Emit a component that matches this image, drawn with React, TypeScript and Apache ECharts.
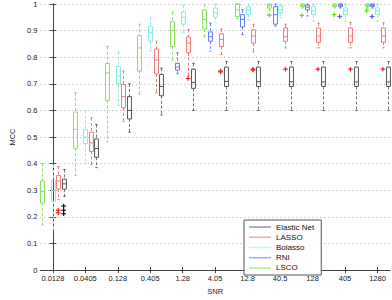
import React, { useEffect, useRef } from 'react';
import * as echarts from 'echarts';

const categories = ['0.0128', '0.0405', '0.128', '0.405', '1.28', '4.05', '12.8', '40.5', '128', '405', '1280'];
const categoryIndex = categories.map((_, i) => i);

// box values per category: [min, q1, median, q3, max]; null = no box
const lscoBoxes = [
  [0.17, 0.252, 0.295, 0.335, 0.4],
  [0.356, 0.457, 0.529, 0.594, 0.666],
  [0.482, 0.637, 0.741, 0.777, 0.84],
  [0.662, 0.748, 0.835, 0.881, 0.924],
  [0.79, 0.84, 0.9, 0.935, 0.97],
  [0.877, 0.906, 0.942, 0.978, 1.0],
  [0.946, 0.953, 0.978, 1.0, 1.0],
  [0.975, 0.985, 0.993, 1.0, 1.0],
  [0.985, 0.99, 0.995, 1.0, 1.0],
  [0.985, 0.99, 0.995, 1.0, 1.0],
  [0.985, 0.99, 0.995, 1.0, 1.0],
];
const lscoOutliers = [[7, 0.958], [8, 0.957], [9, 0.96], [10, 0.975]];

const rniBoxes = [
  null, null, null, null,
  [0.738, 0.752, 0.763, 0.777, 0.817],
  [0.823, 0.86, 0.877, 0.895, 0.928],
  [0.885, 0.914, 0.942, 0.96, 0.978],
  [0.917, 0.924, 0.96, 0.99, 1.0],
  [0.955, 0.978, 0.988, 0.996, 1.0],
  [0.985, 0.99, 0.995, 1.0, 1.0],
  [0.985, 0.99, 0.995, 1.0, 1.0],
];
const rniOutliers = [[9, 0.953], [10, 0.953]];

const bolassoBoxes = [
  [0.15, 0.259, 0.298, 0.338, 0.395],
  [0.4, 0.475, 0.5, 0.529, 0.6],
  [0.62, 0.7, 0.73, 0.765, 0.82],
  [0.823, 0.86, 0.892, 0.917, 0.95],
  [0.894, 0.924, 0.95, 0.97, 0.996],
  [0.93, 0.95, 0.967, 0.985, 1.0],
  [0.94, 0.96, 0.978, 0.99, 1.0],
  [0.95, 0.967, 0.978, 0.993, 1.0],
  [0.935, 0.96, 0.975, 0.99, 1.0],
  [0.935, 0.96, 0.975, 0.985, 1.0],
  [0.935, 0.96, 0.975, 0.985, 1.0],
];
const bolassoOutliers: number[][] = [];

const lassoBoxes = [
  [0.265, 0.305, 0.335, 0.356, 0.39],
  [0.396, 0.446, 0.478, 0.518, 0.572],
  [0.558, 0.61, 0.652, 0.698, 0.748],
  [0.666, 0.737, 0.79, 0.831, 0.86],
  [0.73, 0.817, 0.853, 0.876, 0.904],
  [0.81, 0.84, 0.867, 0.888, 0.906],
  [0.82, 0.853, 0.88, 0.903, 0.924],
  [0.835, 0.86, 0.877, 0.91, 0.924],
  [0.835, 0.856, 0.88, 0.91, 0.928],
  [0.835, 0.856, 0.88, 0.91, 0.93],
  [0.835, 0.856, 0.88, 0.91, 0.93],
];
const lassoOutliers = [
  [0, 0.225], [0, 0.215], [4, 0.72], [5, 0.745], [5, 0.748],
  [6, 0.755], [6, 0.752], [7, 0.755], [8, 0.755], [9, 0.755], [10, 0.755],
];

const elasticBoxes = [
  [0.277, 0.304, 0.324, 0.342, 0.378],
  [0.385, 0.424, 0.457, 0.493, 0.547],
  [0.518, 0.568, 0.6, 0.652, 0.7],
  [0.583, 0.655, 0.69, 0.735, 0.759],
  [0.6, 0.683, 0.705, 0.755, 0.777],
  [0.6, 0.69, 0.709, 0.763, 0.784],
  [0.6, 0.69, 0.708, 0.763, 0.784],
  [0.6, 0.69, 0.708, 0.763, 0.784],
  [0.6, 0.69, 0.707, 0.763, 0.784],
  [0.6, 0.69, 0.707, 0.763, 0.784],
  [0.6, 0.69, 0.707, 0.763, 0.784],
];
const elasticOutliers = [[0, 0.241], [0, 0.225], [0, 0.212]];

// left-to-right order within a group: LSCO, RNI, Bolasso, LASSO, Elastic Net
const methods = [
  { name: 'LSCO', boxes: lscoBoxes, outliers: lscoOutliers, color: '#84e25a', whisker: '#8fe466', outColor: '#5fd82a', legendColor: '#a8f184' },
  { name: 'RNI', boxes: rniBoxes, outliers: rniOutliers, color: '#6478ff', whisker: '#7485ff', outColor: '#4a5cff', legendColor: '#9aa8ff' },
  { name: 'Bolasso', boxes: bolassoBoxes, outliers: bolassoOutliers, color: '#86ebe0', whisker: '#8eede2', outColor: '#60e0d4', legendColor: '#bff6ee' },
  { name: 'LASSO', boxes: lassoBoxes, outliers: lassoOutliers, color: '#f27878', whisker: '#f27a7a', outColor: '#ff1a1a', legendColor: '#ffa3a3' },
  { name: 'Elastic Net', boxes: elasticBoxes, outliers: elasticOutliers, color: '#555555', whisker: '#777777', outColor: '#111111', legendColor: '#9a9a9a' },
];
const legendOrder = ['Elastic Net', 'LASSO', 'Bolasso', 'RNI', 'LSCO'];

const OFFSET = 0.166;
const BOXW = 0.12;

function boxRenderer(k: number, color: string, whisker: string) {
  return (params: any, api: any) => {
    const x = api.value(0);
    const band = api.size([1, 0])[0];
    const off = (k - 2) * band * OFFSET;
    const bw = band * BOXW;
    const pMin = api.coord([x, api.value(1)]);
    const pQ1 = api.coord([x, api.value(2)]);
    const pMed = api.coord([x, api.value(3)]);
    const pQ3 = api.coord([x, api.value(4)]);
    const pMax = api.coord([x, api.value(5)]);
    const cx = Math.round(pMin[0] + off) + 0.5;
    const dash = { stroke: whisker, lineWidth: 1, lineDash: [3, 2] };
    const solid = { stroke: color, lineWidth: 1 };
    const cap = bw * 0.3;
    return {
      type: 'group',
      children: [
        { type: 'line', shape: { x1: cx, y1: pMax[1], x2: cx, y2: pQ3[1] }, style: dash },
        { type: 'line', shape: { x1: cx, y1: pQ1[1], x2: cx, y2: pMin[1] }, style: dash },
        { type: 'line', shape: { x1: cx - cap, y1: pMax[1], x2: cx + cap, y2: pMax[1] }, style: solid },
        { type: 'line', shape: { x1: cx - cap, y1: pMin[1], x2: cx + cap, y2: pMin[1] }, style: solid },
        {
          type: 'rect',
          shape: { x: cx - bw / 2, y: pQ3[1], width: bw, height: pQ1[1] - pQ3[1] },
          style: { fill: 'none', stroke: color, lineWidth: 1 },
        },
        { type: 'line', shape: { x1: cx - bw / 2, y1: pMed[1], x2: cx + bw / 2, y2: pMed[1] }, style: solid },
      ],
    };
  };
}

function outlierRenderer(k: number, color: string) {
  return (params: any, api: any) => {
    const p = api.coord([api.value(0), api.value(1)]);
    const band = api.size([1, 0])[0];
    const cx = p[0] + (k - 2) * band * OFFSET;
    const r = 2.3;
    const st = { stroke: color, lineWidth: 1.2 };
    return {
      type: 'group',
      children: [
        { type: 'line', shape: { x1: cx - r, y1: p[1], x2: cx + r, y2: p[1] }, style: st },
        { type: 'line', shape: { x1: cx, y1: p[1] - r, x2: cx, y2: p[1] + r }, style: st },
      ],
    };
  };
}

export default function App() {
  const ref = useRef<HTMLDivElement>(null);
  useEffect(() => {
    document.body.style.margin = '0';
    const chart = echarts.init(ref.current!, null, { renderer: 'svg' });
    const series: any[] = [];
    methods.forEach((m, k) => {
      const data: any[] = [];
      m.boxes.forEach((b, i) => {
        if (b) data.push([i, ...b]);
      });
      series.push({
        type: 'custom',
        name: m.name,
        itemStyle: { color: m.color },
        encode: { x: 0, y: [1, 2, 3, 4, 5] },
        renderItem: boxRenderer(k, m.color, m.whisker),
        data,
        z: 2,
      });
      if (m.outliers.length) {
        series.push({
          type: 'custom',
          name: m.name,
          itemStyle: { color: m.outColor },
          encode: { x: 0, y: 1 },
          renderItem: outlierRenderer(k, m.outColor),
          data: m.outliers,
          z: 3,
        });
      }
    });
    const axisColor = '#444';
    const option: any = {
      animation: false,
      backgroundColor: '#fff',
      textStyle: { fontFamily: 'Liberation Sans, Arial, sans-serif' },
      grid: { left: 27, right: 2, top: 4, bottom: 18, containLabel: false },
      xAxis: [
        {
          type: 'value',
          position: 'bottom',
          min: -0.386,
          max: 10.386,
          name: 'SNR',
          nameLocation: 'middle',
          nameGap: 13,
          nameTextStyle: { fontSize: 7.5, color: '#222' },
          axisLine: { show: true, lineStyle: { color: axisColor } },
          axisTick: { show: true, inside: true, length: 3, customValues: categoryIndex, lineStyle: { color: axisColor } },
          axisLabel: {
            show: true,
            customValues: categoryIndex,
            formatter: (v: number) => categories[Math.round(v)] ?? '',
            fontSize: 7.5,
            color: '#222',
            margin: 4,
          },
          splitLine: { show: false },
        },
        {
          type: 'value',
          position: 'top',
          min: -0.386,
          max: 10.386,
          axisLine: { show: true, lineStyle: { color: axisColor } },
          axisTick: { show: true, inside: true, length: 3, customValues: categoryIndex, lineStyle: { color: axisColor } },
          axisLabel: { show: false },
          splitLine: { show: false },
        },
      ],
      yAxis: [
        {
          type: 'value',
          min: 0,
          max: 1,
          interval: 0.1,
          name: 'MCC',
          nameLocation: 'middle',
          nameGap: 19,
          nameRotate: 90,
          nameTextStyle: { fontSize: 7.5, color: '#222' },
          axisLine: { show: true, lineStyle: { color: axisColor } },
          axisTick: { show: true, inside: true, length: 3, lineStyle: { color: axisColor } },
          axisLabel: { fontSize: 7.5, color: '#222', margin: 3 },
          splitLine: { show: true, lineStyle: { color: '#aaa', type: [1, 3], width: 1 } },
        },
        {
          type: 'value',
          position: 'right',
          min: 0,
          max: 1,
          interval: 0.1,
          axisLine: { show: true, lineStyle: { color: axisColor } },
          axisTick: { show: true, inside: true, length: 3, lineStyle: { color: axisColor } },
          axisLabel: { show: false },
          splitLine: { show: false },
        },
      ],
      legend: {
        orient: 'vertical',
        left: 244,
        top: 220,
        itemWidth: 22,
        itemHeight: 1.5,
        itemGap: 0,
        padding: [2, 7, 2, 5],
        borderColor: '#555',
        borderWidth: 1,
        backgroundColor: '#fff',
        selectedMode: false,
        icon: 'rect',
        textStyle: { fontSize: 8, color: '#111', lineHeight: 10.2 },
        data: legendOrder.map((n) => {
          const m = methods.find((mm) => mm.name === n)!;
          return { name: n, itemStyle: { color: m.legendColor, borderWidth: 0 } };
        }),
      },
      series,
    };
    chart.setOption(option);
    return () => chart.dispose();
  }, []);
  return <div ref={ref} style={{ position: 'absolute', left: 0, top: 0, width: 392, height: 300 }} />;
}
